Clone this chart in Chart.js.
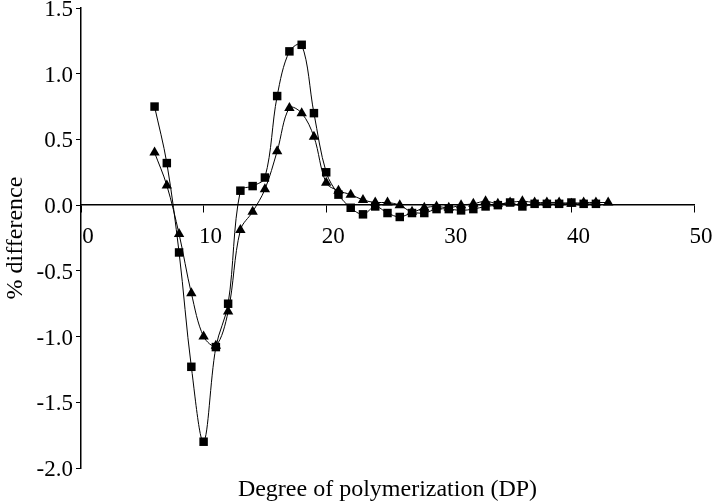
<!DOCTYPE html>
<html>
<head>
<meta charset="utf-8">
<script src="https://cdn.jsdelivr.net/npm/chart.js@4/dist/chart.umd.min.js"></script>
<style>
  html, body { margin: 0; padding: 0; background: #fff; }
  #wrap { width: 719px; height: 502px; }
</style>
</head>
<body>
<div id="wrap"><canvas id="c" width="719" height="502"></canvas></div>
<script>
// Degree of polymerization for each series
const dpSquares = [6,7,8,9,10,11,12,13,14,15,16,17,18,19,20,21,22,23,24,25,26,27,28,29,30,31,32,33,34,35,36,37,38,39,40,41,42];
const diffSquares = [0.75,0.32,-0.36,-1.23,-1.80,-1.08,-0.75,0.11,0.145,0.21,0.83,1.17,1.22,0.70,0.25,0.08,-0.02,-0.07,-0.01,-0.06,-0.09,-0.06,-0.06,-0.03,-0.03,-0.04,-0.03,-0.01,0.00,0.02,-0.01,0.01,0.01,0.01,0.02,0.01,0.01];

const dpTriangles = [6,7,8,9,10,11,12,13,14,15,16,17,18,19,20,21,22,23,24,25,26,27,28,29,30,31,32,33,34,35,36,37,38,39,40,41,42,43];
const diffTriangles = [0.40,0.15,-0.22,-0.67,-1.00,-1.07,-0.81,-0.19,-0.05,0.12,0.41,0.74,0.70,0.52,0.17,0.11,0.08,0.04,0.02,0.02,0.00,-0.05,-0.02,-0.01,-0.02,0.00,0.01,0.03,0.01,0.02,0.03,0.02,0.02,0.02,0.01,0.02,0.02,0.02];

// Axis ticks
const xTicks = [0,10,20,30,40,50];
const yTicks = [-2.0,-1.5,-1.0,-0.5,0.0,0.5,1.0,1.5];

const xTitle = 'Degree of polymerization (DP)';
const yTitle = '% difference';

const FONT = 'Liberation Serif, Times New Roman, serif';

function toPoints(xs, ys) { return xs.map((x, i) => ({x: x, y: ys[i]})); }

new Chart(document.getElementById('c'), {
  type: 'line',
  data: {
    datasets: [
      {
        label: 'squares',
        data: toPoints(dpSquares, diffSquares),
        borderColor: '#000',
        backgroundColor: '#000',
        borderWidth: 1,
        pointStyle: 'rect',
        pointRadius: 6,
        pointBorderWidth: 0,
        tension: 0.35,
        fill: false
      },
      {
        label: 'triangles',
        data: toPoints(dpTriangles, diffTriangles),
        borderColor: '#000',
        backgroundColor: '#000',
        borderWidth: 1,
        pointStyle: 'triangle',
        pointRadius: 6,
        pointBorderWidth: 0,
        tension: 0.35,
        fill: false
      }
    ]
  },
  options: {
    responsive: false,
    animation: false,
    devicePixelRatio: 1,
    layout: { padding: { left: 0, right: 25, top: 8, bottom: 0 } },
    plugins: {
      legend: { display: false },
      tooltip: { enabled: false },
      title: {
        display: true,
        position: 'bottom',
        fullSize: false,
        text: xTitle,
        color: '#000',
        font: { family: FONT, size: 24, weight: 'normal', lineHeight: 1.0 },
        padding: { top: 10, bottom: 0 }
      }
    },
    scales: {
      x: {
        type: 'linear',
        position: { y: 0 },
        min: xTicks[0],
        max: xTicks[xTicks.length - 1],
        afterBuildTicks: (s) => { s.ticks = xTicks.map(v => ({value: v})); },
        ticks: {
          color: '#000',
          font: { family: FONT, size: 23 },
          padding: 11,
          labelOffset: 7,
          maxRotation: 0,
          autoSkip: false,
          callback: (v) => String(v)
        },
        grid: { drawOnChartArea: false, drawTicks: true, tickLength: 7, color: '#000', tickWidth: 1 },
        border: { display: true, color: '#000', width: 1.5 },
        afterFit: (s) => { s.paddingLeft = 0; s.paddingRight = 0; }
      },
      y: {
        type: 'linear',
        position: 'left',
        min: yTicks[0],
        max: yTicks[yTicks.length - 1],
        afterBuildTicks: (s) => { s.ticks = yTicks.map(v => ({value: v})); },
        ticks: {
          color: '#000',
          font: { family: FONT, size: 23 },
          padding: 3,
          labelOffset: 2,
          autoSkip: false,
          callback: (v) => Number(v).toFixed(1)
        },
        title: {
          display: true,
          text: yTitle,
          color: '#000',
          font: { family: FONT, size: 24, lineHeight: 1.2 },
          padding: { top: 1, bottom: 4 }
        },
        grid: { drawOnChartArea: false, drawTicks: true, tickLength: 5, color: '#000', tickWidth: 1 },
        border: { display: true, color: '#000', width: 1.5 },
        afterFit: (s) => { s.width = 81; s.paddingTop = 0; s.paddingBottom = 0; }
      }
    }
  }
});
</script>
</body>
</html>
